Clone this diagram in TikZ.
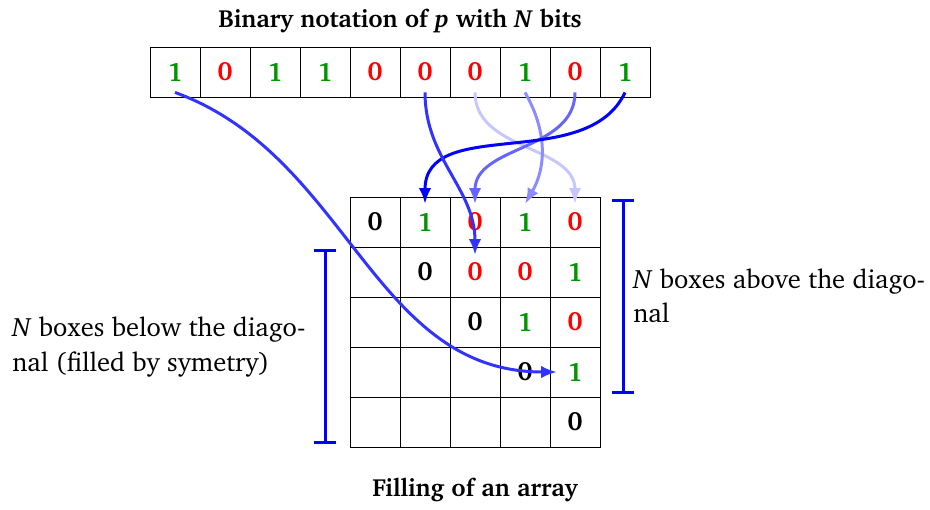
\documentclass[tikz,border=0pt]{standalone}
\usepackage[T1]{fontenc}
\usepackage{charter}
\usetikzlibrary{arrows.meta}
\definecolor{bitgreen}{RGB}{0,150,0}
\definecolor{bitred}{RGB}{255,0,0}
\begin{document}
\begin{tikzpicture}[
  cell/.style={draw=black, line width=0.5pt, minimum size=1cm, inner sep=0pt,
               font=\fontsize{15}{18}\selectfont\bfseries},
  one/.style={text=bitgreen},
  zero/.style={text=bitred},
  diag/.style={text=black},
  link/.style={line width=1.7pt, -{Latex[length=9pt,width=7pt]}},
  brace/.style={blue, line width=1.7pt, {Bar[width=0.44cm]}-{Bar[width=0.44cm]}},
  note/.style={font=\fontsize{15.1}{19.5}\selectfont, align=left, inner sep=0pt, anchor=west},
  heading/.style={font=\fontsize{14.1}{17}\selectfont\bfseries, inner sep=0pt, anchor=base}
]
\useasboundingbox (0,0) rectangle (18.6,10.18);

% binary notation of p, one cell per bit
\foreach \v/\s [count=\i] in {1/one,0/zero,1/one,1/one,0/zero,0/zero,0/zero,1/one,0/zero,1/one}
  \node[cell,\s] (b\i) at ({2.5+\i},8.74) {\v};

% the 5x5 array, filled above the diagonal
\node[cell,diag] (m11) at (7.5,5.74) {0};
\node[cell,one]  (m12) at (8.5,5.74) {1};
\node[cell,zero] (m13) at (9.5,5.74) {0};
\node[cell,one]  (m14) at (10.5,5.74) {1};
\node[cell,zero] (m15) at (11.5,5.74) {0};

\node[cell]      (m21) at (7.5,4.74) {};
\node[cell,diag] (m22) at (8.5,4.74) {0};
\node[cell,zero] (m23) at (9.5,4.74) {0};
\node[cell,zero] (m24) at (10.5,4.74) {0};
\node[cell,one]  (m25) at (11.5,4.74) {1};

\node[cell]      (m31) at (7.5,3.74) {};
\node[cell]      (m32) at (8.5,3.74) {};
\node[cell,diag] (m33) at (9.5,3.74) {0};
\node[cell,one]  (m34) at (10.5,3.74) {1};
\node[cell,zero] (m35) at (11.5,3.74) {0};

\node[cell]      (m41) at (7.5,2.74) {};
\node[cell]      (m42) at (8.5,2.74) {};
\node[cell]      (m43) at (9.5,2.74) {};
\node[cell,diag] (m44) at (10.5,2.74) {0};
\node[cell,one]  (m45) at (11.5,2.74) {1};

\node[cell]      (m51) at (7.5,1.74) {};
\node[cell]      (m52) at (8.5,1.74) {};
\node[cell]      (m53) at (9.5,1.74) {};
\node[cell]      (m54) at (10.5,1.74) {};
\node[cell,diag] (m55) at (11.5,1.74) {0};

% bits copied into the array
\draw[link, blue!22] ([yshift=0.1cm]b7.south) to[out=-90,in=90] ([yshift=0.36cm]m15.center);
\draw[link, blue!45] ([yshift=0.1cm]b8.south) to[out=-60,in=60] ([yshift=0.36cm]m14.center);
\draw[link, blue!60] ([yshift=0.1cm]b9.south) to[out=-90,in=90] ([yshift=0.36cm]m13.center);
\draw[link, blue]    ([yshift=0.1cm]b10.south) to[out=-115,in=90] ([yshift=0.36cm]m12.center);
\draw[link, blue!80] ([yshift=0.1cm]b6.south) to[out=-90,in=90] ([yshift=0.34cm]m23.center);
\draw[link, blue!80] ([yshift=0.1cm]b1.south) to[out=-20,in=180] ([xshift=-0.36cm]m45.center);

% extents of the two triangles
\draw[brace] (6.5,5.2) -- (6.5,1.3);
\draw[brace] (12.46,6.2) -- (12.46,2.3);

% labels
\node[note] (lowtext) at (0.24,3.24) {\textit{N} boxes below the diago-\\nal (filled by symetry)};
\node[note] (uptext) at (12.66,4.26) {\textit{N} boxes above the diago-\\nal};
\node[heading] (top) at (8,9.64) {Binary notation of \textit{p} with \textit{N} bits};
\node[heading] (bottom) at (9.5,0.26) {Filling of an array};
\end{tikzpicture}
\end{document}
